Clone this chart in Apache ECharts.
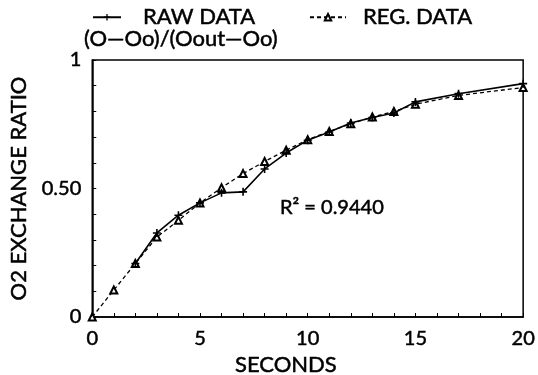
<!DOCTYPE html>
<html>
<head>
<meta charset="utf-8">
<script src="https://cdn.jsdelivr.net/npm/echarts@6/dist/echarts.min.js"></script>
<style>html,body{margin:0;padding:0;background:#fff}#c{width:538px;height:375px}</style>
</head>
<body>
<div id="c"></div>
<script>
// Data
var rawX = [2, 3, 4, 5, 6, 7, 8, 9, 10, 11, 12, 13, 14, 15, 17, 20];
var rawY = [0.208, 0.327, 0.396, 0.444, 0.483, 0.487, 0.576, 0.638, 0.688, 0.720, 0.755, 0.776, 0.794, 0.837, 0.869, 0.908];
var regX = [0, 1, 2, 3, 4, 5, 6, 7, 8, 9, 10, 11, 12, 13, 14, 15, 17, 20];
var regY = [0, 0.105, 0.208, 0.311, 0.376, 0.444, 0.503, 0.558, 0.605, 0.649, 0.690, 0.722, 0.752, 0.778, 0.800, 0.828, 0.862, 0.893];
var yTickLabels = {0: '0', 0.5: '0.50', 1: '1'};
var seriesNames = ['RAW DATA', 'REG. DATA'];

function pairs(xs, ys) { return xs.map(function (x, i) { return [x, ys[i]]; }); }

var FONT = 'Lato';
function ts(size, extra) {
  var o = { fontFamily: FONT, fontSize: size, fontWeight: 'normal', color: '#000', textBorderColor: '#000', textBorderWidth: 0.5 };
  for (var k in extra) o[k] = extra[k];
  return o;
}
var plus = 'path://M4,0H6V4H10V6H6V10H4V6H0V4H4Z';
var chart = echarts.init(document.getElementById('c'));
chart.setOption({
  animation: false,
  backgroundColor: '#fff',
  textStyle: { fontFamily: FONT, color: '#000' },
  grid: { left: 90, right: 8, top: 60, bottom: 58, show: true, borderColor: '#000', borderWidth: 1.5 },
  title: [
    { text: '(O\u2014Oo)/(Oout\u2014Oo)', left: 84, top: 28, padding: 0, textStyle: ts(22) },
    { text: 'R\u00B2 = 0.9440', left: 280, top: 198, padding: 0, textStyle: ts(20) },
    { text: 'SECONDS', left: 235, top: 354, padding: 0, textStyle: ts(22) }
  ],
  legend: [
    { data: [seriesNames[0]], left: 92, top: 6, padding: 0, itemWidth: 28, itemHeight: 8,
      textStyle: ts(22, { padding: [0, 0, 0, 17] }) },
    { data: [seriesNames[1]], left: 309, top: 6, padding: 0, itemWidth: 36, itemHeight: 8,
      textStyle: ts(22, { padding: [0, 0, 0, 12] }) }
  ],
  xAxis: {
    type: 'value', min: 0, max: 20, interval: 5,
    axisLine: { show: true, lineStyle: { color: '#000', width: 1.5 } },
    axisTick: { show: true, inside: true, length: 4, lineStyle: { color: '#000' } },
    minorTick: { show: true, splitNumber: 5, length: 4, lineStyle: { color: '#000' } },
    splitLine: { show: false },
    axisLabel: ts(20, { margin: 12 })
  },
  yAxis: {
    type: 'value', min: 0, max: 1, interval: 0.5,
    name: 'O2 EXCHANGE RATIO', nameLocation: 'middle', nameGap: 62, nameRotate: 90,
    nameTextStyle: ts(22),
    axisLine: { show: true, lineStyle: { color: '#000', width: 1.5 } },
    axisTick: { show: true, inside: true, length: 4, lineStyle: { color: '#000' } },
    minorTick: { show: true, splitNumber: 5, length: 4, lineStyle: { color: '#000' } },
    splitLine: { show: false },
    axisLabel: ts(20, { margin: 11,
      formatter: function (v) { return yTickLabels[v] !== undefined ? yTickLabels[v] : ''; } })
  },
  series: [
    { name: seriesNames[0], type: 'line', data: pairs(rawX, rawY), symbol: plus, symbolSize: 8,
      lineStyle: { color: '#000', width: 1.6 }, itemStyle: { color: '#000' }, z: 3 },
    { name: seriesNames[1], type: 'line', data: pairs(regX, regY), symbol: 'emptyTriangle', symbolSize: 7,
      lineStyle: { color: '#000', width: 1.3, type: [4, 3] }, itemStyle: { color: '#000', borderWidth: 1 }, z: 2 }
  ]
});
</script>
</body>
</html>
